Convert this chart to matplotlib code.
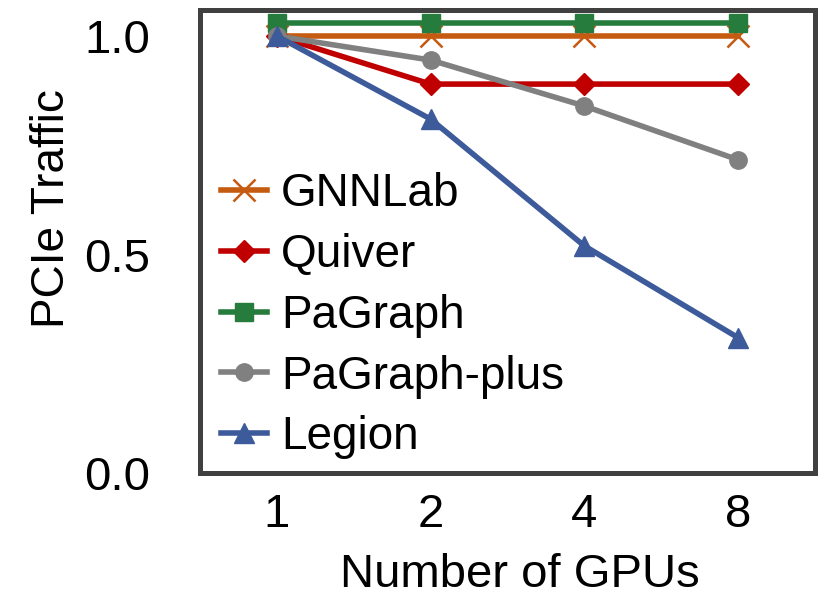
import matplotlib.pyplot as plt

plt.rcParams["font.family"] = ["Liberation Sans", "DejaVu Sans"]

gpus = ["1", "2", "4", "8"]
gnnlab = [1.0, 1.0, 1.0, 1.0]
quiver = [1.0, 0.89, 0.89, 0.89]
pagraph = [1.03, 1.03, 1.03, 1.03]
pagraph_plus = [1.0, 0.945, 0.84, 0.717]
legion = [1.0, 0.81, 0.52, 0.31]

fig = plt.figure(figsize=(8.18, 6.12), dpi=100)
ax = fig.add_axes([0.2445, 0.227, 0.7515, 0.757])

x = range(len(gpus))
lw = 4
ax.plot(x, gnnlab, color="#C55A11", lw=lw, marker="x", ms=16, mew=1.8, label="GNNLab")
ax.plot(x, quiver, color="#C00000", lw=lw, marker="D", ms=11, label="Quiver")
ax.plot(x, pagraph, color="#267C3D", lw=lw, marker="s", ms=12.5, label="PaGraph")
ax.plot(x, pagraph_plus, color="#808080", lw=lw, marker="o", ms=12.5, label="PaGraph-plus")
ax.plot(x, legion, color="#3D5A9B", lw=lw, marker="^", ms=14, label="Legion")

ax.set_xlim(-0.5, 3.5)
ax.set_ylim(0, 1.06)
ax.set_xticks(list(x))
ax.set_xticklabels(gpus)
ax.set_yticks([0.0, 0.5, 1.0])
ax.set_yticklabels(["0.0", "0.5", "1.0"])
ax.tick_params(length=0, labelsize=34)
ax.tick_params(axis="y", pad=36)
ax.tick_params(axis="x", pad=14)
for s in ax.spines.values():
    s.set_linewidth(3.6)
    s.set_color("#404040")

ax.set_xlabel("Number of GPUs", fontsize=34)
ax.xaxis.set_label_coords(0.52, -0.172)
ax.set_ylabel("PCIe Traffic", fontsize=33)
ax.yaxis.set_label_coords(-0.205, 0.57)

ax.legend(loc="upper left", bbox_to_anchor=(-0.01, 0.71), frameon=False, fontsize=33,
          handlelength=1.0, handletextpad=0.3, labelspacing=0.37, borderaxespad=0.2)

fig.savefig("out.png", dpi=100)
